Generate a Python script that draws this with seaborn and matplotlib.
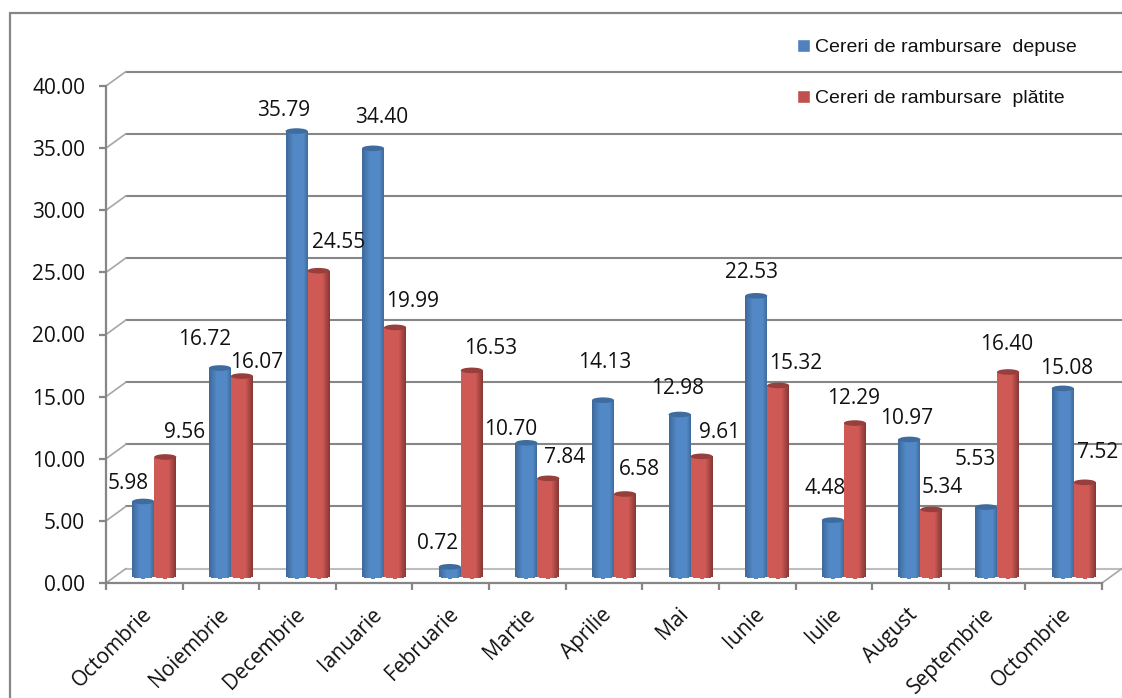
import numpy as np
import matplotlib
matplotlib.use("Agg")
import matplotlib.pyplot as plt
import pandas as pd
import seaborn as sns
from matplotlib.patches import Ellipse, Rectangle
from matplotlib.lines import Line2D
from matplotlib.transforms import Affine2D
from matplotlib.colors import to_rgb

luni = ["Octombrie", "Noiembrie", "Decembrie", "Ianuarie", "Februarie", "Martie", "Aprilie",
        "Mai", "Iunie", "Iulie", "August", "Septembrie", "Octombrie"]
depuse = [5.98, 16.72, 35.79, 34.40, 0.72, 10.70, 14.13, 12.98, 22.53, 4.48, 10.97, 5.53, 15.08]
platite = [9.56, 16.07, 24.55, 19.99, 16.53, 7.84, 6.58, 9.61, 15.32, 12.29, 5.34, 16.40, 7.52]
nume_depuse = "Cereri de rambursare  depuse"
nume_platite = "Cereri de rambursare  plătite"

# deplasarea etichetelor fata de varful barei, in pixeli
et_depuse = [(-15, 19), (-15, 30), (-13, 22), (8, 32), (-12, 25), (-16, 15), (2, 39),
             (-2, 27), (-5, 25), (-8, 33), (-3, 22), (-11, 49), (4, 21)]
et_platite = [(19, 26), (15, 15), (20, 30), (17, 27), (19, 23), (16, 22), (14, 26),
              (18, 25), (17, 23), (-1, 26), (11, 23), (-1, 29), (13, 31)]

W, H = 1122, 698
GRI = "#868686"
FONT = 15
sns.set_theme(style="white")
plt.rcParams["font.family"] = "Open Sans"

fig = plt.figure(figsize=(W / 100, H / 100), dpi=100)
ax = fig.add_axes([106 / W, (H - 583) / H, 996 / W, 497 / H])
ax.patch.set_alpha(0)

n = len(luni)
df = pd.DataFrame({
    "poz": list(range(n)) * 2,
    "val": depuse + platite,
    "serie": [nume_depuse] * n + [nume_platite] * n,
})
sns.barplot(data=df, x="poz", y="val", hue="serie", palette=["#4f81bd", "#c0504d"],
            width=0.575, gap=0, saturation=1, legend=False, ax=ax, zorder=3)
ax.set_xlim(-0.5, n - 0.5)
ax.set_ylim(0, 40)
ax.set_xlabel("")
ax.set_ylabel("")


def tr(dx, dy):
    return ax.transData + Affine2D().translate(dx, dy)


# peretele din spate
px_y = 497 / 40
px_x = 996 / n
for v in range(0, 45, 5):
    c = "#bdbdbd" if v == 0 else GRI
    ax.plot([-0.5, n - 0.5], [v, v], color=c, lw=1.5, transform=tr(20, 14.5), clip_on=False, zorder=1)
    ax.add_line(Line2D([-0.5, -0.5 + 20 / px_x], [v, v + 14.5 / px_y], color="#a6a6a6", lw=1.2,
                       clip_on=False, zorder=1))
ax.add_line(Line2D([n - 0.5, n - 0.5 + 20 / px_x], [0, 14.5 / px_y], color="#a6a6a6", lw=1.2,
                   clip_on=False, zorder=1))

# cilindri
umbre = {
    0: ("#3d6899", "#5288c6", "#3f6a9a", "#3f6c9e"),
    1: ("#c9534f", "#cf5955", "#843633", "#963f3c"),
}
e = 2.8 / px_y
for k, cont in enumerate(ax.containers):
    st, mij, dr, cap = umbre[k]
    st, mij, dr = to_rgb(st), to_rgb(mij), to_rgb(dr)
    for bara in cont:
        x0, w, h = bara.get_x(), bara.get_width(), bara.get_height()
        bara.set_transform(tr(10, 7.25))
        bara.set_visible(False)
        m = 22
        for j in range(m):
            u = (j + 0.5) / m
            if k == 0:
                c = [a + (b - a) * min(u / 0.35, 1) for a, b in zip(st, mij)]
                if u > 0.8:
                    c = [a + (b - a) * (u - 0.8) / 0.2 for a, b in zip(mij, dr)]
            else:
                t = max((u - 0.65) / 0.35, 0)
                c = [a + (b - a) * t for a, b in zip(mij, dr)]
            jos = -e * np.sqrt(max(1 - (2 * u - 1) ** 2, 0))
            ax.add_patch(Rectangle((x0 + w * j / m, jos), w / m, h - jos, facecolor=c, lw=0,
                                   antialiased=False, transform=tr(10, 7.25), clip_on=False, zorder=3))
        ax.add_patch(Ellipse((x0 + w / 2, h), w, 2 * e, facecolor=cap, lw=0,
                             transform=tr(10, 7.25), clip_on=False, zorder=3.5))

# etichete
for cont, valori, dep_et in zip(ax.containers, [depuse, platite], [et_depuse, et_platite]):
    for bara, v, (dx, dy) in zip(cont, valori, dep_et):
        ax.text(bara.get_x() + bara.get_width() / 2, v, f"{v:.2f}", ha="center", va="center",
                fontsize=FONT, color="#111111", transform=tr(10 + dx, 7.25 + dy - 1.5), zorder=5, clip_on=False)

# axe
for s in ["top", "right"]:
    ax.spines[s].set_visible(False)
for s in ["left", "bottom"]:
    ax.spines[s].set_color(GRI)
    ax.spines[s].set_linewidth(1.6)
ax.set_yticks(range(0, 45, 5))
ax.set_yticklabels([f"{v:.2f}" for v in range(0, 45, 5)], fontsize=FONT, color="#111111")
ax.set_xticks(np.arange(-0.5, n), labels=[""] * (n + 1))
ax.set_xticks(np.arange(n), labels=luni, minor=True)
ax.tick_params(axis="y", left=True, length=5, width=1.6, color=GRI, pad=10)
ax.tick_params(axis="x", which="major", bottom=True, length=5, width=1.6, color=GRI)
ax.tick_params(axis="x", which="minor", bottom=False, length=0, pad=15, labelsize=FONT, labelcolor="#111111")
for t in ax.get_xticklabels(minor=True):
    t.set_rotation(45)
    t.set_ha("right")
    t.set_rotation_mode("anchor")
    t.set_transform(t.get_transform() + Affine2D().translate(-3, 0))

# chenar
fig.add_artist(Line2D([10 / W, 10 / W], [0, 1 - 13 / H], color=GRI, lw=1.6))
fig.add_artist(Line2D([10 / W, 1], [1 - 13 / H, 1 - 13 / H], color=GRI, lw=1.6))

# legenda
handles = [Rectangle((0, 0), 1, 1, facecolor="#4f81bd"), Rectangle((0, 0), 1, 1, facecolor="#c0504d")]
fig.legend(handles, [nume_depuse, nume_platite], loc="upper left", bbox_to_anchor=(797 / W, 1 - 39 / H),
           frameon=False, prop={"family": "Liberation Sans", "size": 14}, handlelength=0.67, handleheight=0.67,
           handletextpad=0.26, labelspacing=1.71, labelcolor="#111111", borderaxespad=0, borderpad=0)

fig.savefig("out.png", dpi=100, facecolor="white")
